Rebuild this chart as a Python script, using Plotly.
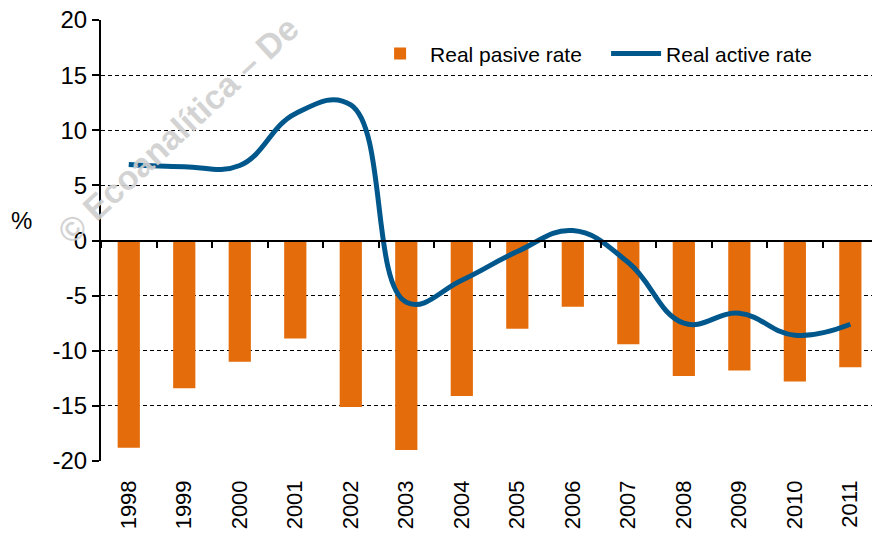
import plotly.graph_objects as go

years = ["1998", "1999", "2000", "2001", "2002", "2003", "2004",
         "2005", "2006", "2007", "2008", "2009", "2010", "2011"]
pasive_rate = [-18.8, -13.4, -11.0, -8.9, -15.1, -19.0, -14.1,
               -8.0, -6.0, -9.4, -12.3, -11.8, -12.8, -11.5]
active_rate = [6.9, 6.7, 6.8, 11.5, 12.3, -5.6, -3.6,
               -1.0, 0.9, -2.0, -7.5, -6.6, -8.6, -7.6]
y_ticks = [-20, -15, -10, -5, 0, 5, 10, 15, 20]
y_tick_labels = ["-20", "-15", "-10", "-5", "0", "5", "10", "15", "20"]

ORANGE = "#E46C0A"
BLUE = "#00578C"
FONT = "Liberation Sans, Arial, sans-serif"

xmax = len(years) - 0.61
boundaries = [i - 0.5 for i in range(len(years) + 1)]

fig = go.Figure()
fig.add_trace(go.Bar(
    x=years, y=pasive_rate, name="Real pasive rate",
    marker=dict(color=ORANGE, line=dict(width=0)),
))
fig.add_trace(go.Scatter(
    x=years, y=active_rate, name="Real active rate", mode="lines",
    line=dict(color=BLUE, width=5, shape="spline", smoothing=1.2),
))
# zero-line axis with category-boundary tick marks
fig.add_trace(go.Scatter(x=[0], y=[0], xaxis="x2", mode="markers",
                         marker=dict(opacity=0), showlegend=False,
                         hoverinfo="skip"))

fig.update_layout(
    width=872, height=535,
    margin=dict(l=101, r=0, t=20, b=74, autoexpand=False),
    paper_bgcolor="white", plot_bgcolor="white",
    font=dict(family=FONT, color="black"),
    bargap=0.6,
    showlegend=True,
    legend=dict(orientation="h", x=0.349, y=0.923, xanchor="left",
                yanchor="middle", font=dict(size=21, family=FONT),
                bgcolor="rgba(0,0,0,0)", traceorder="normal",
                entrywidth=171, entrywidthmode="pixels", itemwidth=50),
    xaxis=dict(type="category", range=[-0.5, xmax], showgrid=False,
               showline=False, ticks="", tickangle=-90,
               tickfont=dict(size=22, family=FONT), ticklabelstandoff=14,
               zeroline=False),
    xaxis2=dict(overlaying="x", anchor="free", position=0.5, side="bottom",
                range=[-0.5, xmax], showline=True, linecolor="black",
                linewidth=2, ticks="outside", ticklen=6, tickwidth=1.5,
                tickcolor="black", tickmode="array", tickvals=boundaries,
                showticklabels=False, showgrid=False, zeroline=False),
    yaxis=dict(range=[-20, 20], tickmode="array", tickvals=y_ticks,
               ticktext=y_tick_labels,
               showgrid=True, gridcolor="black", gridwidth=1,
               griddash="4px,3px", showline=True, linecolor="black",
               linewidth=2, ticks="outside", ticklen=7, tickwidth=1.5,
               tickcolor="black", tickfont=dict(size=24, family=FONT),
               zeroline=False),
)

fig.add_annotation(text="%", xref="paper", yref="paper", x=-0.1025, y=0.545,
                   showarrow=False, font=dict(size=24, family=FONT),
                   xanchor="center", yanchor="middle")
fig.add_annotation(text="© Ecoanalítica – De", xref="paper", yref="paper",
                   x=0.1, y=0.75, showarrow=False, textangle=-43,
                   font=dict(size=34, family=FONT, color="#CFCFCF",
                             weight="bold"),
                   xanchor="center", yanchor="middle", opacity=0.9)

fig.write_html("out.html",
               config={"displayModeBar": False},
               post_script="document.body.style.margin='0';"
                           "document.body.style.overflow='hidden';")
